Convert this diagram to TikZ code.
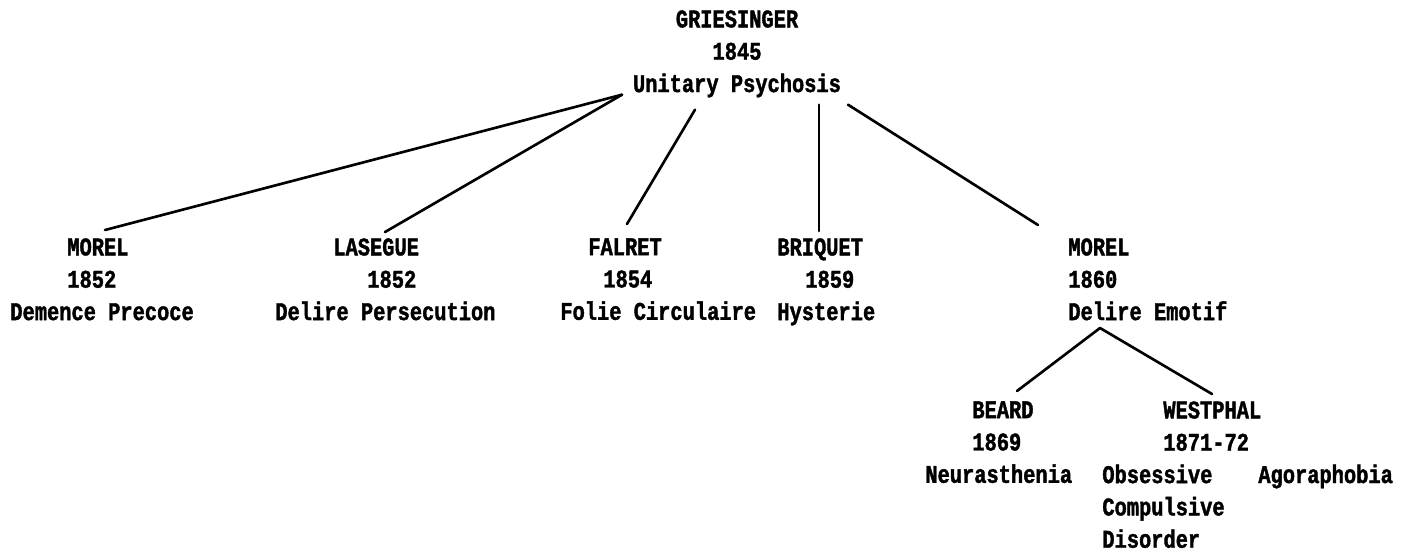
\documentclass[tikz,border=0pt]{standalone}
\usepackage{fontspec}
\usepackage{tikz}
\usetikzlibrary{calc}
\newfontfamily\labelfont[FakeStretch=0.8, FakeBold=1.5]{Liberation Mono}
\newlength\pxu
\setlength\pxu{0.02cm}
\newcommand{\pad}[1]{\hspace*{#1\pxu}}

\begin{document}
\begin{tikzpicture}[
    x=\pxu, y=-\pxu,
    entry/.style={font=\labelfont\bfseries\fontsize{14.5}{18.4}\selectfont, inner sep=0pt, align=left, anchor=north west},
    link/.style={line width=1.5pt, line cap=round}
]
    \useasboundingbox (0,0) rectangle (1405,552);
    % root
    \node[entry, align=center, anchor=north] (gr) at (737,10) {GRIESINGER\\1845\\Unitary Psychosis};
    % first generation
    \node[entry] (morelA) at (10,238) {\pad{57}MOREL\\\pad{57}1852\\Demence Precoce};
    \node[entry] (lasegue) at (275,238) {\pad{58}LASEGUE\\\pad{92}1852\\Delire Persecution};
    \node[entry] (falret) at (560,238) {\pad{28}FALRET\\\pad{43}1854\\Folie Circulaire};
    \node[entry] (briquet) at (777,238) {BRIQUET\\\pad{28}1859\\Hysterie};
    \node[entry] (morelB) at (1068,238) {MOREL\\1860\\Delire Emotif};
    % second generation
    \node[entry] (beard) at (925,401) {\pad{47}BEARD\\\pad{47}1869\\Neurasthenia};
    \node[entry] (westphal) at (1102,401) {\pad{61}WESTPHAL\\\pad{61}1871-72\\Obsessive\\Compulsive\\Disorder};
    \node[entry, anchor=base west] (agora) at (1258,483) {Agoraphobia};

    \draw[link] ($(gr.south)+(-115,-3)$) -- ($(morelA.north west)+(95,-8)$);
    \draw[link] ($(gr.south)+(-115,-3)$) -- ($(lasegue.north west)+(110,-6)$);
    \draw[link] ($(gr.south)+(-42,12)$) -- ($(falret.north west)+(67,-14)$);
    \draw[link] ($(gr.south)+(82,7)$) -- ($(briquet.north west)+(42,-7)$);
    \draw[link] ($(gr.south)+(111,7)$) -- ($(morelB.north west)+(-30,-13)$);
    \draw[link] ($(morelB.north west)+(32,90)$) -- ($(beard.north west)+(92,-10)$);
    \draw[link] ($(morelB.north west)+(32,90)$) -- ($(westphal.north west)+(110,-7)$);
\end{tikzpicture}
\end{document}
